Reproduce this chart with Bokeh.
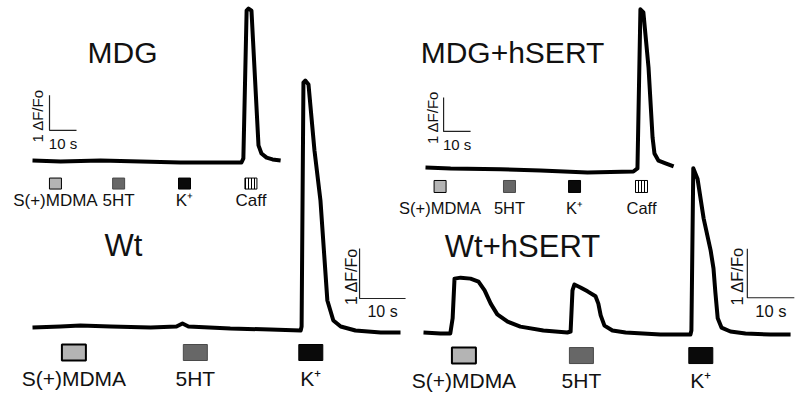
import math
from bokeh.plotting import figure
from bokeh.models import Range1d
from bokeh.embed import file_html
from bokeh.resources import INLINE
from bokeh.core.properties import value

# ---------------- data (time in s, signal in ΔF/Fo) ----------------
mdg_t = [0, 10.4, 25.2, 40, 54.8, 69.6, 77.4, 78.1, 79.3, 80.0, 81.1, 83.7, 84.8, 86.7, 88.9, 91.9]
mdg_df = [0.03, 0, 0.03, 0, -0.03, -0.03, -0.03, 0.09, 4.31, 4.37, 4.31, 0.46, 0.23, 0.11, 0.06, 0.03]

mdg_hsert_t = [0, 9.3, 27.8, 42.6, 60, 77, 78.5, 79.6, 80.7, 82.6, 84.1, 84.8, 86.3, 88.9, 91.9]
mdg_hsert_df = [0.09, 0.06, 0.04, 0, -0.06, -0.03, 0.06, 4.74, 4.65, 3.03, 0.97, 0.5, 0.29, 0.21, 0.12]

wt_t = [0, 6.1, 10.4, 17, 25.7, 31.3, 32.6, 33.9, 43, 51.7, 58.3, 58.5, 58.9, 59.3, 60.0,
        61.3, 62.6, 63.5, 64.1, 65.4, 67, 70.2, 75.7, 80]
wt_df = [0.04, 0.06, 0.08, 0.06, 0.04, 0.06, 0.12, 0.06, 0.02, 0, -0.02, 0.06, 4.94, 4.98, 4.9,
         3.58, 2.58, 1.38, 0.58, 0.18, 0.06, -0.02, -0.06, -0.06]

wt_hsert_t = [0, 3.6, 5.7, 6.2, 6.6, 7.9, 10, 11.7, 13, 14.3, 15.7, 17.9, 20.6, 25.5, 30.6,
              31.3, 31.7, 32.1, 33.4, 34.9, 36.6, 37.2, 37.7, 38.5, 40.2, 43, 50.4, 56.8,
              57.0, 57.4, 58.3, 59.6, 61.1, 61.7, 62.1, 62.6, 63.4, 65.3, 68.5, 73.8, 78.1]
wt_hsert_df = [0.02, 0, 0, 0.31, 1.12, 1.14, 1.12, 1.06, 0.88, 0.61, 0.39, 0.24, 0.14, 0.06, 0.02,
               0.04, 0.88, 1.0, 0.94, 0.86, 0.76, 0.61, 0.37, 0.16, 0.06, 0.02, -0.02, -0.02,
               0.06, 3.37, 3.16, 2.35, 1.69, 1.33, 0.84, 0.31, 0.12, 0.04, 0, -0.02, -0.02]

panel_titles = ["MDG", "MDG+hSERT", "Wt", "Wt+hSERT"]
top_labels = ["S(+)MDMA", "5HT", "K\u207a", "Caff"]
bottom_labels = ["S(+)MDMA", "5HT", "K\u207a"]
mdg_stim_t = [8.5, 31.9, 56.3, 80.9]
mdg_hsert_stim_t = [5.4, 31.1, 55.2, 80.0]
wt_stim_t = [9.0, 35.4, 60.5]
wt_hsert_stim_t = [8.6, 33.6, 59.0]
scale_t = 10     # s
scale_df = 1     # ΔF/Fo

# ---------------- layout (reference pixel geometry) ----------------
W, H = 796, 397
CX0, CX1, CY0, CY1 = 0, W, 0, H
FONT = value("Liberation Sans")

panels = [
    dict(name="mdg", x0=32, y0=161, sx=2.7, sy=35, t=mdg_t, df=mdg_df,
         stim=mdg_stim_t, labels=top_labels, sq_y=-0.63, lab_y=-1.11, sq_w=12, sq_h=11,
         lab_fs="17px", sq_lw=1, bar=(6.3, 0.89), bar_dx=-12, fs_bar="15px",
         title_xy=(122, 52), title_fs="30px"),
    dict(name="mdgh", x0=425, y0=170, sx=2.7, sy=34, t=mdg_hsert_t, df=mdg_hsert_df,
         stim=mdg_hsert_stim_t, labels=top_labels, sq_y=-0.47, lab_y=-1.09, sq_w=12, sq_h=12,
         lab_fs="16.5px", sq_lw=1, bar=(6.7, 1.15), bar_dx=-11, fs_bar="15px",
         title_xy=(512, 52), title_fs="30px"),
    dict(name="wt", x0=32, y0=329, sx=4.6, sy=50, t=wt_t, df=wt_df,
         stim=wt_stim_t, labels=bottom_labels, sq_y=-0.46, lab_y=-0.98, sq_w=24, sq_h=16,
         lab_fs="21px", sq_lw=2, bar=(71.1, 0.62), bar_dx=-8, fs_bar="16px",
         title_xy=(123, 245), title_fs="31px"),
    dict(name="wth", x0=423, y0=333, sx=4.7, sy=49, t=wt_hsert_t, df=wt_hsert_df,
         stim=wt_hsert_stim_t, labels=bottom_labels, sq_y=-0.45, lab_y=-0.96, sq_w=24, sq_h=16,
         lab_fs="21px", sq_lw=2, bar=(68.9, 0.73), bar_dx=-10, fs_bar="16.5px",
         title_xy=(522, 246), title_fs="31px"),
]
sq_fill = ["#b4b4b4", "#676767", "#0a0a0a", "white"]
sq_line = ["black", "#4a4a4a", "black", "black"]

p = figure(width=W, height=H, output_backend="svg", toolbar_location=None,
           x_range=Range1d(CX0, CX1), y_range=Range1d(CY1, CY0),
           x_axis_location=None, y_axis_location=None, min_border=0)
p.grid.visible = False
p.outline_line_color = None
p.background_fill_color = "white"

xr, yr = {}, {}
for g in panels:
    xr[g["name"]] = Range1d((CX0 - g["x0"]) / g["sx"], (CX1 - g["x0"]) / g["sx"])
    yr[g["name"]] = Range1d((g["y0"] - CY1) / g["sy"], (g["y0"] - CY0) / g["sy"])
p.extra_x_ranges = xr
p.extra_y_ranges = yr

for i, g in enumerate(panels):
    n = g["name"]
    kw = dict(x_range_name=n, y_range_name=n)
    # trace
    p.line(g["t"], g["df"], line_color="black", line_width=4, line_join="round", **kw)
    # scale bar
    bx, by = g["bar"]
    p.line([bx, bx, bx + scale_t], [by + scale_df, by, by], line_color="#222222", line_width=1.2, **kw)
    p.text(x=[bx], y=[by + scale_df / 2], text=["1 \u0394F/Fo"], angle=math.pi / 2,
           x_offset=g["bar_dx"], y_offset=3, text_align="center", text_baseline="middle",
           text_font=FONT, text_font_size=g["fs_bar"], text_color="#111111", **kw)
    p.text(x=[bx + scale_t / 2], y=[by], text=["10 s"], y_offset=13,
           text_align="center", text_baseline="middle",
           text_font=FONT, text_font_size=g["fs_bar"], text_color="#111111", **kw)
    # stimulus markers
    k = len(g["stim"])
    for j in range(k):
        extra = {}
        if j == 3:
            extra = dict(hatch_pattern="vertical_line", hatch_color="black", hatch_scale=3.0,
                         hatch_weight=1.0)
        p.rect(x=[g["stim"][j]], y=[g["sq_y"]], width=g["sq_w"], height=g["sq_h"],
               width_units="screen", height_units="screen",
               fill_color=sq_fill[j], line_color=sq_line[j],
               line_width=g["sq_lw"] if j == 0 else 1, **extra, **kw)
    p.text(x=g["stim"], y=[g["lab_y"]] * k, text=g["labels"], text_align="center",
           text_baseline="middle", text_font=FONT, text_font_size=g["lab_fs"],
           text_color="#111111", **kw)
    # title
    tx, ty = g["title_xy"]
    p.text(x=[tx], y=[ty], text=[panel_titles[i]], text_align="center", text_baseline="middle",
           text_font=FONT, text_font_size=g["title_fs"], text_color="#111111")

open("out.html", "w").write(file_html(p, INLINE))
